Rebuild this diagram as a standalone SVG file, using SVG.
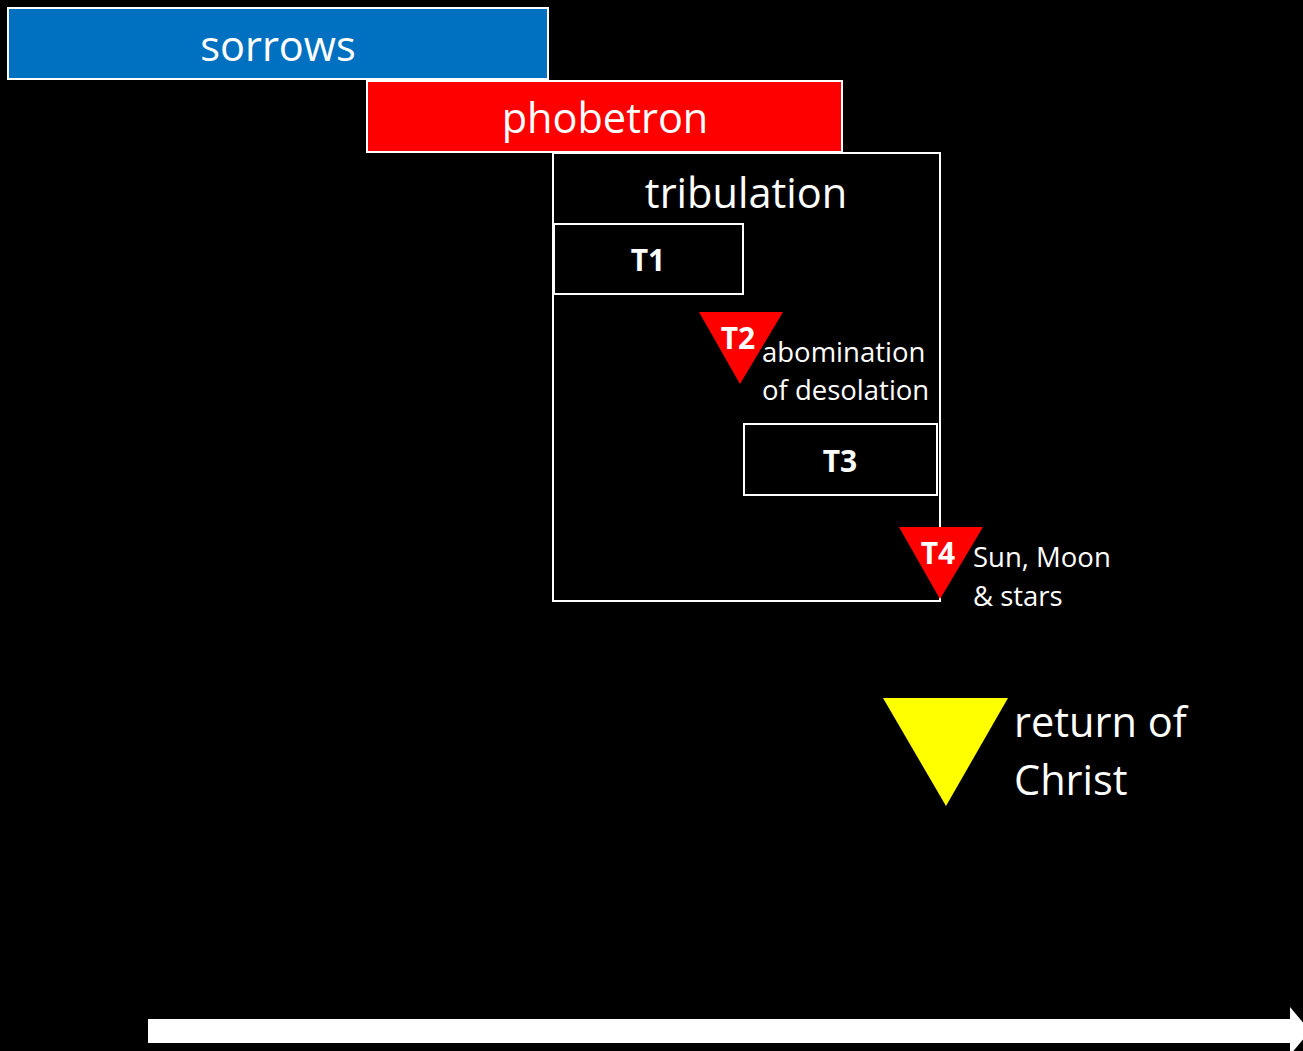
<svg xmlns="http://www.w3.org/2000/svg" width="1303" height="1051" viewBox="0 0 1303 1051">
<style>
text{font-family:"Open Sans","Liberation Sans",sans-serif;fill:#fff}
.box{stroke:#fff;stroke-width:2}
.big{font-size:41.5px;text-anchor:middle}
.lab{font-size:30px;font-weight:bold;text-anchor:middle}
.note{font-size:27.5px}
</style>
<rect x="0" y="0" width="1303" height="1051" fill="#000"/>
<g id="sorrows"><rect class="box" x="8" y="8" width="540" height="71" fill="#0070C0"/><text class="big" x="278" y="61">sorrows</text></g>
<g id="phobetron"><rect class="box" x="367" y="81" width="475" height="71" fill="#FF0000"/><text class="big" x="605" y="133">phobetron</text></g>
<g id="tribulation"><rect class="box" x="553" y="153" width="387" height="448" fill="#000"/><text class="big" x="746" y="208">tribulation</text></g>
<g id="T1"><rect class="box" x="554" y="224" width="189" height="70" fill="#000"/><text class="lab" x="648" y="271">T1</text></g>
<g id="T2"><polygon points="699,312 783,312 740,384" fill="#FF0000"/><text class="lab" x="738" y="349">T2</text><text class="note" x="762" y="362">abomination</text><text class="note" x="762" y="400">of desolation</text></g>
<g id="T3"><rect class="box" x="744" y="424" width="193" height="71" fill="#000"/><text class="lab" x="840" y="472">T3</text></g>
<g id="T4"><polygon points="899,527 983,527 940,599" fill="#FF0000"/><text class="lab" x="938" y="564">T4</text><text class="note" x="973" y="567">Sun, Moon</text><text class="note" x="973" y="606">&amp; stars</text></g>
<g id="return"><polygon points="883,698 1008,698 946,806" fill="#FFFF00"/><text style="font-size:41.5px" x="1014" y="737">return of</text><text style="font-size:41.5px" x="1014" y="795">Christ</text></g>
<g id="connectors"><polygon points="148,1019 1290,1019 1290,1007 1310,1031 1290,1055 1290,1043 148,1043" fill="#fff"/></g>
</svg>
